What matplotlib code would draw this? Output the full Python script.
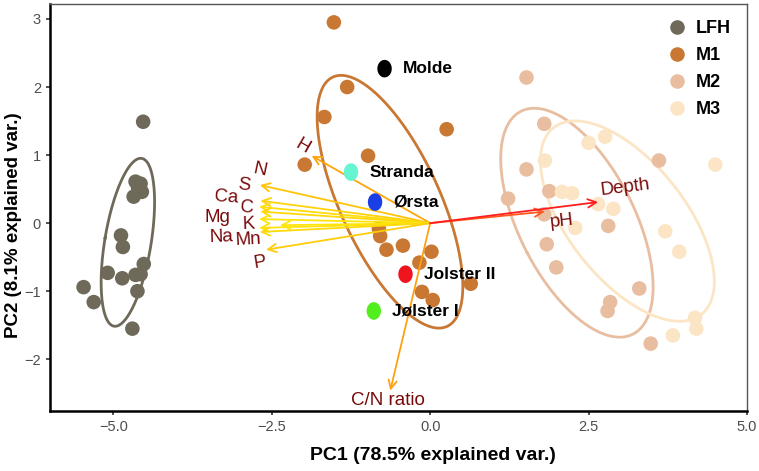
import numpy as np
import matplotlib
matplotlib.use("Agg")
import matplotlib.pyplot as plt
from matplotlib.lines import Line2D
from matplotlib.path import Path

plt.rcParams['font.family'] = ['Liberation Sans', 'DejaVu Sans']

# ---------------- data ----------------
groups = ["LFH", "M1", "M2", "M3"]
group_colors = ["#6E6959", "#C87832", "#E8BDA0", "#FCE5C4"]

lfh_x = [-4.53, -4.65, -4.57, -4.55, -4.68, -4.61, -4.88, -4.85, -5.09, -4.86, -4.65, -4.52, -4.62, -5.47, -5.31, -4.70, -4.57]
lfh_y = [1.49, 0.61, 0.58, 0.46, 0.39, 0.52, -0.18, -0.35, -0.73, -0.81, -0.76, -0.60, -1.00, -0.94, -1.16, -1.55, -0.75]

m1_x = [-1.52, -1.31, -1.67, 0.26, -1.98, -0.98, -0.81, -0.79, -0.69, -0.43, -0.17, 0.02, -0.13, 0.04, 0.64]
m1_y = [2.95, 2.00, 1.56, 1.38, 0.86, 0.99, -0.08, -0.19, -0.39, -0.33, -0.58, -0.42, -1.01, -1.13, -0.89]

m2_x = [1.52, 1.80, 1.52, 1.88, 1.23, 1.80, 3.61, 2.81, 1.84, 1.99, 3.30, 2.84, 2.80, 3.48]
m2_y = [2.14, 1.46, 0.79, 0.47, 0.36, 0.13, 0.92, -0.04, -0.31, -0.65, -0.96, -1.16, -1.29, -1.77]

m3_x = [2.50, 2.76, 1.81, 4.50, 2.08, 2.24, 2.65, 2.89, 2.29, 3.71, 3.93, 4.18, 4.20, 3.83]
m3_y = [1.18, 1.27, 0.92, 0.86, 0.46, 0.44, 0.28, 0.21, -0.07, -0.12, -0.42, -1.39, -1.55, -1.65]

group_x = [lfh_x, m1_x, m2_x, m3_x]
group_y = [lfh_y, m1_y, m2_y, m3_y]

sites = ["Molde", "Stranda", "Ørsta", "Jolster II", "Jølster I"]
site_x = [-0.72, -1.25, -0.87, -0.39, -0.89]
site_y = [2.27, 0.75, 0.31, -0.75, -1.29]
site_colors = ["#000000", "#66F5D2", "#1B3FE6", "#F0141E", "#52EE1E"]

variables = ["H", "N", "S", "Ca", "C", "Mg", "K", "Na", "Mn", "P", "C/N ratio", "pH", "Depth"]
var_x = [-1.87, -2.69, -2.68, -2.70, -2.68, -2.70, -2.37, -2.70, -2.69, -2.59, -0.63, 1.81, 2.65]
var_y = [0.99, 0.56, 0.33, 0.24, 0.17, 0.06, -0.03, -0.07, -0.13, -0.39, -2.46, 0.17, 0.31]
var_colors = ["#FFA50A", "#FFC40A", "#FFD20A", "#FFDC0A", "#FFD80A", "#FFE40A", "#FFE60A",
              "#FFE20A", "#FFDA0A", "#FFCC0A", "#FFA010", "#FF5A1E", "#FF1E1E"]
label_x = [-2.02, -2.68, -2.94, -3.21, -2.89, -3.35, -2.87, -3.30, -2.87, -2.69, -0.66, 2.08, 3.08]
label_y = [1.12, 0.78, 0.56, 0.38, 0.23, 0.09, -0.01, -0.20, -0.25, -0.58, -2.60, 0.03, 0.52]
label_rot = [-30, -12, -7, -4, -3, 0, 2, 2, 3, 9, 0, 6, 7]

x_ticks = [-5.0, -2.5, 0.0, 2.5, 5.0]
y_ticks = [-2, -1, 0, 1, 2, 3]

# ---------------- figure ----------------
fig = plt.figure(figsize=(7.59, 4.71), dpi=100)
ax = fig.add_axes([50 / 759, 1 - 411 / 471, (747 - 50) / 759, (411 - 4) / 471])
ax.set_xlim(-6.0, 5.0)
ax.set_ylim(-2.76, 3.22)

# ellipses (normal, prob 0.68) from data
r = np.sqrt(-2 * np.log(1 - 0.68))
t = np.linspace(0, 2 * np.pi, 200)
for gx, gy, col in zip(group_x, group_y, group_colors):
    pts = np.column_stack([gx, gy])
    mu = pts.mean(axis=0)
    cov = np.cov(pts.T)
    vals, vecs = np.linalg.eigh(cov)
    circ = np.vstack([np.cos(t), np.sin(t)])
    ell = (vecs @ np.diag(np.sqrt(vals)) @ circ) * r
    ax.plot(ell[0] + mu[0], ell[1] + mu[1], color=col, lw=2.0, zorder=1)

# points
for gx, gy, col, g in zip(group_x, group_y, group_colors, groups):
    ax.scatter(gx, gy, s=110, color=col, edgecolors='none', zorder=2)

# arrows
for vx, vy, col in zip(var_x, var_y, var_colors):
    ax.annotate("", xy=(vx, vy), xytext=(0, 0),
                arrowprops=dict(arrowstyle="->,head_length=0.6,head_width=0.3",
                                color=col, lw=1.3, shrinkA=0, shrinkB=0),
                zorder=3)

for name, lx, ly, rot in zip(variables, label_x, label_y, label_rot):
    ax.text(lx, ly, name, color="#7A0A0A", fontsize=13.5, ha='center', va='center',
            rotation=rot, rotation_mode='anchor', zorder=4)

# site points (slightly tall ellipses)
th = np.linspace(0, 2 * np.pi, 60)
ell_marker = Path(np.column_stack([np.cos(th) * 0.82, np.sin(th)]), closed=True)
for sx, sy, col, name in zip(site_x, site_y, site_colors, sites):
    ax.scatter([sx], [sy], s=160, marker=ell_marker, color=col, edgecolors='none', zorder=5)
    ax.text(sx + 0.29, sy, name, fontsize=12.5, fontweight='bold', color='black',
            ha='left', va='center', zorder=6)

# legend
handles = [Line2D([], [], marker='o', linestyle='none', markersize=10.5,
                  markerfacecolor=c, markeredgecolor='none') for c in group_colors]
leg = ax.legend(handles, groups, loc='upper right', frameon=False,
                prop={'weight': 'bold', 'size': 13}, handletextpad=0.05,
                labelspacing=0.55, borderaxespad=0.5, bbox_to_anchor=(1.0, 1.0))

# axes styling
ax.set_xticks(x_ticks)
ax.set_xticklabels([f"{v:.1f}".replace("-", "\u2212") for v in x_ticks])
ax.set_yticks(y_ticks)
ax.set_yticklabels([f"{v}".replace("-", "\u2212") for v in y_ticks])
ax.tick_params(axis='both', colors='#333333', labelcolor='#4D4D4D', labelsize=10.5,
               length=3, width=1.2, direction='out')
for s in ['left', 'bottom']:
    ax.spines[s].set_linewidth(1.8)
    ax.spines[s].set_color('black')
for s in ['top', 'right']:
    ax.spines[s].set_linewidth(1.0)
    ax.spines[s].set_color('#555555')

ax.set_xlabel("PC1 (78.5% explained var.)", fontsize=14, fontweight='bold')
ax.set_ylabel("PC2 (8.1% explained var.)", fontsize=13.5, fontweight='bold')
ax.xaxis.set_label_coords((433 - 50) / 697, -(447 - 411) / 407)
ax.yaxis.set_label_coords(-(50 - 22) / 697, (411 - 225) / 407)

fig.savefig("out.png", dpi=100)
